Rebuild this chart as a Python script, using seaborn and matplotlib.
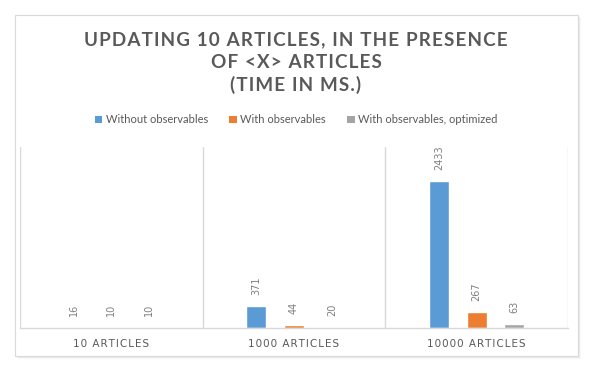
import matplotlib
matplotlib.use("Agg")
import matplotlib.pyplot as plt
import seaborn as sns
import pandas as pd
from matplotlib.patches import Rectangle, Patch

categories = ["10 ARTICLES", "1000 ARTICLES", "10000 ARTICLES"]
series = ["Without observables", "With observables", "With observables, optimized"]
without_obs = [16, 371, 2433]
with_obs = [10, 44, 267]
with_obs_opt = [10, 20, 63]
colors = ["#5B9BD5", "#ED7D31", "#A5A5A5"]
title_lines = ["UPDATING 10 ARTICLES, IN THE PRESENCE", "OF <X> ARTICLES", "(TIME IN MS.)"]

rows = []
for name, vals in zip(series, [without_obs, with_obs, with_obs_opt]):
    for c, v in zip(categories, vals):
        rows.append({"category": c, "series": name, "value": v})
df = pd.DataFrame(rows)

sns.set_theme(style="white")
plt.rcParams["font.family"] = ["Lato", "DejaVu Sans"]


def spaced(s):
    return "\u200a".join(list(s))


W, H = 593, 367
fig = plt.figure(figsize=(W / 100, H / 100), dpi=100)
fig.patch.set_facecolor("white")

# outer chart frame with soft shadow
for i, a in enumerate([0.05, 0.04, 0.03]):
    fig.patches.append(Rectangle(((15 + 1 + i) / W, 1 - (356 + 1 + i) / H), 563 / W, 341 / H,
                                 transform=fig.transFigure, facecolor="#000000", alpha=a,
                                 edgecolor="none", zorder=-2))
fig.patches.append(Rectangle((15 / W, 1 - 356 / H), 563 / W, 341 / H, transform=fig.transFigure,
                             facecolor="white", edgecolor="#D9D9D9", linewidth=0.8, zorder=-1))

ax = fig.add_axes([20 / W, 1 - 328 / H, (568 - 20) / W, (328 - 147) / H])
ax.set_zorder(2)
ax.set_facecolor("none")
sns.barplot(data=df, x="category", y="value", hue="series", palette=colors,
            order=categories, hue_order=series, width=0.62, gap=0.47,
            ax=ax, legend=False, saturation=1)

ax.set_xlim(-0.5, 2.5)
ax.set_ylim(0, 3000)
ax.set_yticks([])
ax.set_xlabel("")
ax.set_ylabel("")
for s in ["top", "left", "right"]:
    ax.spines[s].set_visible(False)
ax.spines["bottom"].set_color("#D9D9D9")
ax.spines["bottom"].set_linewidth(1)
for xv in [-0.5, 0.5, 1.5, 2.5]:
    ax.axvline(xv, color="#D9D9D9", linewidth=1, zorder=0)

ax.set_xticks(range(len(categories)))
ax.set_xticklabels([spaced(c) for c in categories], fontsize=7.5, color="#595959")
ax.tick_params(axis="x", length=0, pad=8)
for lbl in ax.get_xticklabels():
    lbl.set_family(["DejaVu Sans"])

for cont in ax.containers:
    ax.bar_label(cont, labels=[f"{v:.0f}" for v in cont.datavalues], rotation=90,
                 padding=8, fontsize=7, color="#7F7F7F", family=["DejaVu Sans"])

for k, (line, y) in enumerate(zip(title_lines, [40, 62, 85])):
    fig.text(296 / W, 1 - y / H, spaced(line), ha="center", va="center", fontsize=13.6,
             fontweight="bold", color="#595959", family=["Lato", "DejaVu Sans"])

handles = [Patch(facecolor=c, edgecolor="none") for c in colors]
fig.legend(handles, series, loc="center", bbox_to_anchor=(296 / W, 1 - 120 / H), ncol=3,
           frameon=False, fontsize=8, handlelength=0.7, handleheight=0.7,
           handletextpad=0.3, columnspacing=1.9, labelcolor="#595959")

fig.savefig("out.png", dpi=100, facecolor="white")
